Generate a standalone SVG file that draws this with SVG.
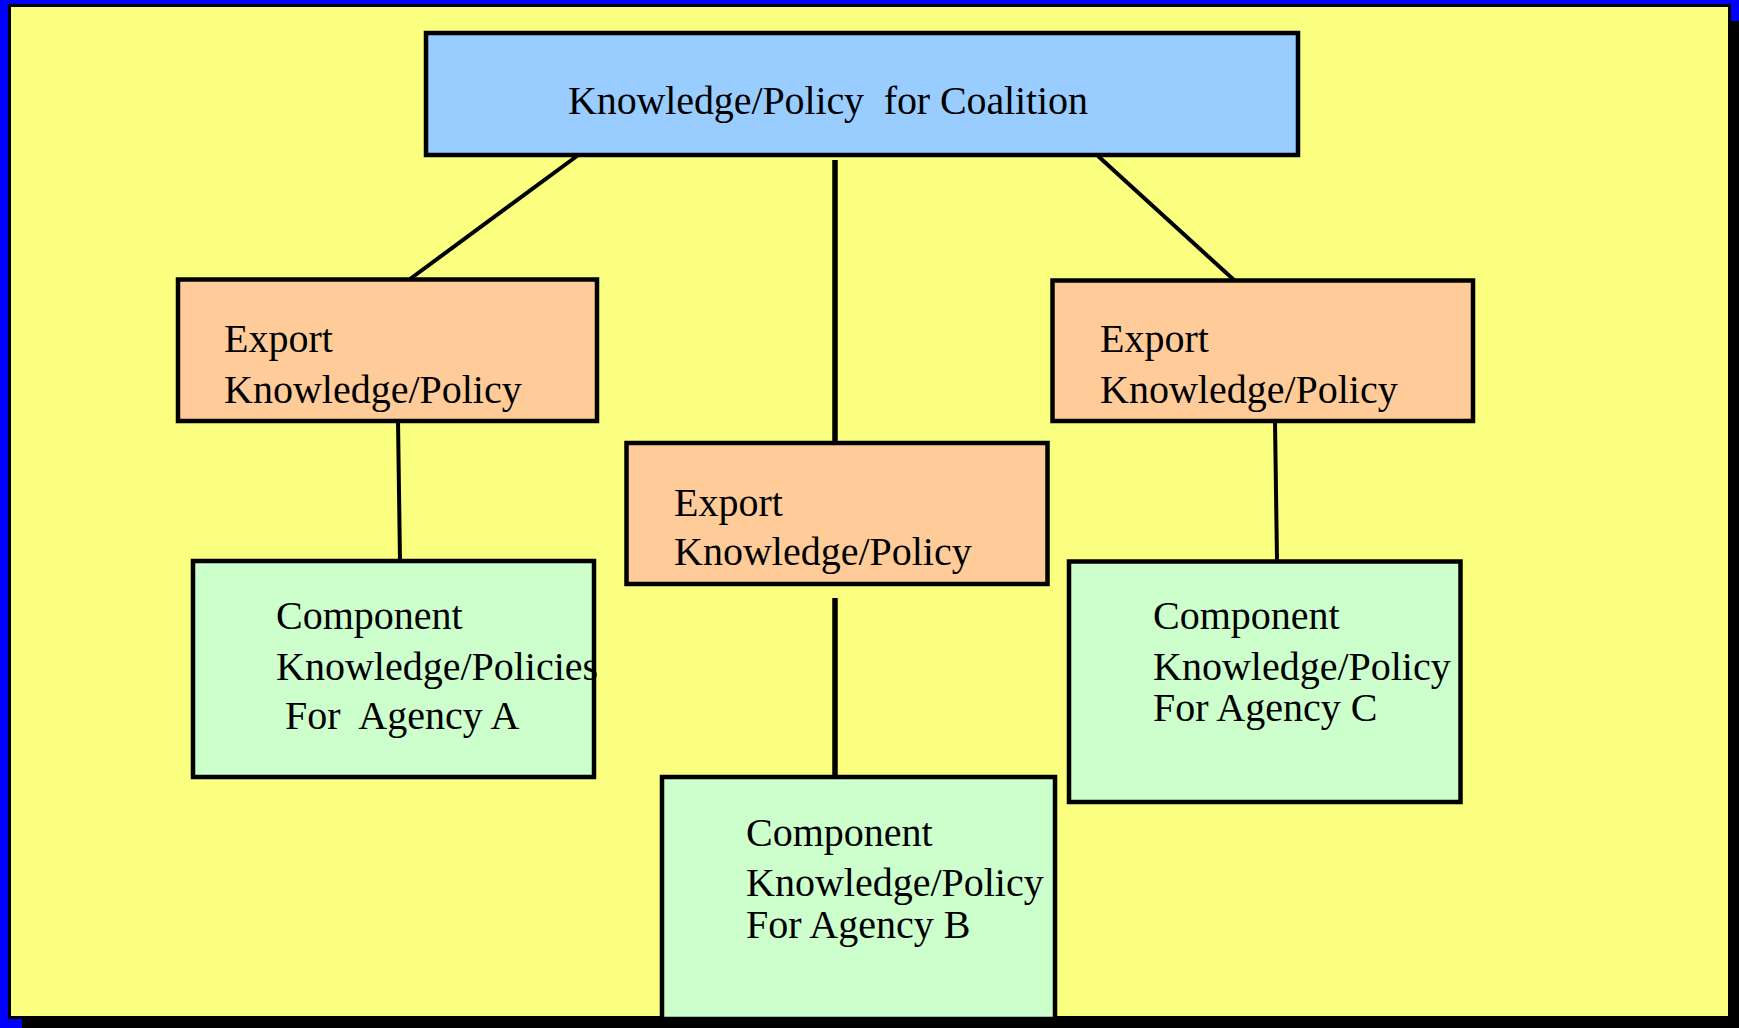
<svg xmlns="http://www.w3.org/2000/svg" width="1739" height="1028" viewBox="0 0 1739 1028">
<style>
  .box { stroke: #000; stroke-width: 4.5; }
  .top { fill: #99CCFF; }
  .exp { fill: #FFCC99; }
  .cmp { fill: #CCFFCC; }
  text { font-family: "Liberation Serif", "Times New Roman", serif; font-size: 40px; fill: #000; white-space: pre; }
  .conn line { stroke: #000; stroke-width: 4; }
  .conn line.thick { stroke-width: 5.5; }
</style>
<rect x="0" y="0" width="1739" height="1028" fill="#0000FF"/>
<rect x="22" y="21" width="1730" height="1020" fill="#000"/>
<rect x="9.5" y="5.5" width="1720" height="1012" fill="#FAFF80" stroke="#000" stroke-width="3"/>

<g id="connectors" class="conn">
  <line x1="577" y1="156" x2="410" y2="279"/>
  <line class="thick" x1="835" y1="160" x2="835" y2="443"/>
  <line x1="1098" y1="156" x2="1234" y2="280"/>
  <line x1="398" y1="421" x2="400" y2="561"/>
  <line class="thick" x1="835" y1="598" x2="835" y2="777"/>
  <line x1="1275" y1="421" x2="1277" y2="561"/>
</g>

<g id="coalition">
  <rect class="box top" x="426" y="33" width="872" height="122"/>
  <text x="568" y="114" textLength="520">Knowledge/Policy  for Coalition</text>
</g>

<g id="export-a">
  <rect class="box exp" x="178" y="279.5" width="419" height="141.5"/>
  <text x="224" y="352">Export</text>
  <text x="224" y="403">Knowledge/Policy</text>
</g>

<g id="export-b">
  <rect class="box exp" x="626.5" y="443" width="421" height="141"/>
  <text x="674" y="516">Export</text>
  <text x="674" y="565">Knowledge/Policy</text>
</g>

<g id="export-c">
  <rect class="box exp" x="1052.5" y="280.5" width="420.5" height="140.5"/>
  <text x="1100" y="352">Export</text>
  <text x="1100" y="403">Knowledge/Policy</text>
</g>

<g id="component-a">
  <rect class="box cmp" x="193" y="561" width="401" height="216"/>
  <text x="276" y="629">Component</text>
  <text x="276" y="680">Knowledge/Policies</text>
  <text x="285" y="729">For  Agency A</text>
</g>

<g id="component-b">
  <rect class="box cmp" x="662" y="777" width="393" height="242"/>
  <text x="746" y="846">Component</text>
  <text x="746" y="896">Knowledge/Policy</text>
  <text x="746" y="938">For Agency B</text>
</g>

<g id="component-c">
  <rect class="box cmp" x="1069" y="561.5" width="391.5" height="240.5"/>
  <text x="1153" y="629">Component</text>
  <text x="1153" y="680">Knowledge/Policy</text>
  <text x="1153" y="721">For Agency C</text>
</g>
</svg>
